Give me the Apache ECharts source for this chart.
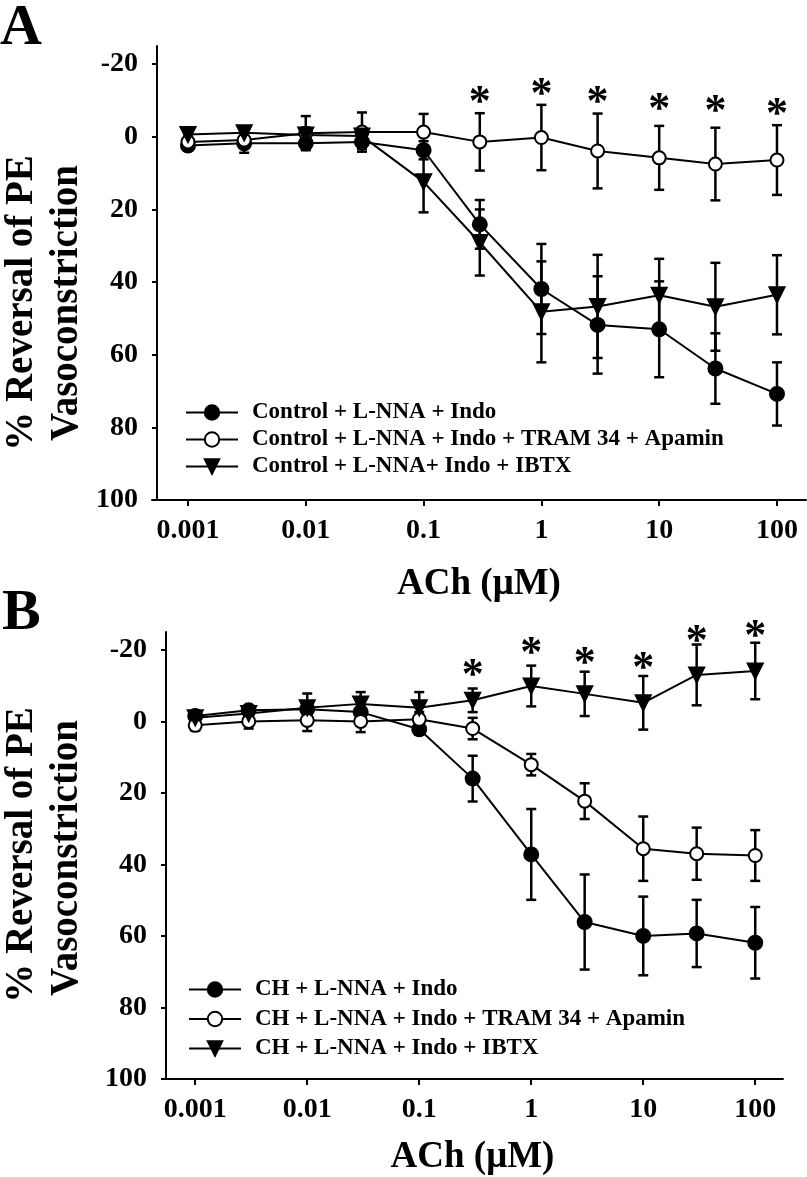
<!DOCTYPE html>
<html>
<head>
<meta charset="utf-8">
<script src="https://cdn.jsdelivr.net/npm/echarts@6/dist/echarts.min.js"></script>
<style>
  html, body { margin: 0; padding: 0; background: #fff; }
  #chart { width: 807px; height: 1177px; }
</style>
</head>
<body>
<div id="chart"></div>
<script>
// ---------- DATA ----------
const conc = [0.001, 0.003, 0.01, 0.03, 0.1, 0.3, 1, 3, 10, 30, 100];
const xTickValues = [0.001, 0.01, 0.1, 1, 10, 100];
const xTickLabels = ['0.001', '0.01', '0.1', '1', '10', '100'];
const yTickValues = [-20, 0, 20, 40, 60, 80, 100];

// Panel A (Control)
const namesA = ['Control + L-NNA + Indo', 'Control + L-NNA + Indo + TRAM 34 + Apamin', 'Control + L-NNA+ Indo + IBTX'];
const ctlIndo      = [2.4, 1.8, 1.8, 1.4, 3.7, 24.1, 41.9, 51.8, 53.0, 63.8, 70.8];
const ctlIndoErr   = [1.0, 2.6, 1.5, 2.0, 2.5, 6.7, 12.4, 13.4, 13.2, 9.7, 8.7];
const ctlTram      = [1.4, 0.9, -1.0, -1.3, -1.3, 1.4, 0.2, 3.9, 5.8, 7.5, 6.4];
const ctlTramErr   = [1.5, 2.0, 4.7, 5.4, 5.0, 7.9, 9.0, 10.3, 8.8, 10.0, 9.6];
const ctlIbtx      = [-0.6, -1.1, -0.5, -0.2, 12.4, 29.1, 48.2, 46.7, 43.6, 46.8, 43.5];
const ctlIbtxErr   = [1.0, 1.0, 2.0, 2.0, 8.4, 9.1, 13.9, 14.2, 10.0, 12.1, 10.9];
const starConcA    = [0.3, 1, 3, 10, 30, 100];
const starYA       = [-11.9, -14.2, -11.9, -9.9, -9.4, -8.5];

// Panel B (CH)
const namesB = ['CH + L-NNA + Indo', 'CH + L-NNA + Indo + TRAM 34 + Apamin', 'CH + L-NNA + Indo + IBTX'];
const chIndo       = [-1.5, -3.1, -3.4, -2.6, 2.2, 16.0, 37.2, 56.1, 60.0, 59.3, 61.9];
const chIndoErr    = [1.0, 1.0, 1.5, 1.5, 1.5, 6.4, 12.7, 13.3, 11.0, 9.4, 10.0];
const chTram       = [1.1, 0.0, -0.3, 0.0, -0.6, 2.0, 12.1, 22.3, 35.6, 37.0, 37.5];
const chTramErr    = [1.5, 2.0, 3.0, 3.0, 2.0, 3.0, 3.0, 5.0, 9.0, 7.3, 7.1];
const chIbtx       = [-1.0, -2.2, -3.8, -4.9, -3.8, -5.9, -9.9, -7.7, -5.2, -13.0, -14.1];
const chIbtxErr    = [1.0, 1.0, 4.0, 3.3, 4.4, 3.3, 5.7, 6.2, 7.5, 8.5, 7.9];
const starConcB    = [0.3, 1, 3, 10, 30, 100];
const starYB       = [-15.2, -21.5, -18.7, -17.3, -24.9, -26.3];

// ---------- STYLE ----------
const FONT = '"Liberation Serif", "Times New Roman", serif';
const BLACK = '#000';

function pairs(xs, ys) { return xs.map((x, i) => [x, ys[i]]); }
function triples(xs, ys, es) { return xs.map((x, i) => [x, ys[i], es[i]]); }

function errRender(params, api) {
  const x = api.value(0), m = api.value(1), e = api.value(2);
  const t = api.coord([x, m - e]);
  const b = api.coord([x, m + e]);
  const hw = 5;
  const st = { stroke: BLACK, lineWidth: 2.5 };
  return {
    type: 'group',
    children: [
      { type: 'line', shape: { x1: t[0], y1: t[1], x2: b[0], y2: b[1] }, style: st },
      { type: 'line', shape: { x1: t[0] - hw, y1: t[1], x2: t[0] + hw, y2: t[1] }, style: st },
      { type: 'line', shape: { x1: b[0] - hw, y1: b[1], x2: b[0] + hw, y2: b[1] }, style: st }
    ]
  };
}
function starRender(params, api) {
  const p = api.coord([api.value(0), api.value(1)]);
  return {
    type: 'text', x: p[0], y: p[1] + 10,
    style: { text: '*', font: 'bold 44px ' + FONT, fill: BLACK, align: 'center', verticalAlign: 'middle' }
  };
}

function xAxisCfg(gi, min, max, nameGap) {
  return {
    type: 'log', gridIndex: gi, min: min, max: max, logBase: 10,
    name: 'ACh (μM)', nameLocation: 'middle', nameGap: nameGap,
    nameTextStyle: { fontFamily: FONT, fontWeight: 'bold', fontSize: 37, color: BLACK },
    axisLine: { onZero: false, lineStyle: { color: BLACK, width: 2 } },
    axisTick: { show: true, length: 6, lineStyle: { color: BLACK, width: 2 }, customValues: xTickValues },
    axisLabel: {
      margin: 17, fontFamily: FONT, fontWeight: 'bold', fontSize: 28, color: BLACK,
      customValues: xTickValues,
      formatter: v => { const i = xTickValues.findIndex(t => Math.abs(Math.log10(t) - Math.log10(v)) < 1e-6); return i >= 0 ? xTickLabels[i] : ''; }
    },
    splitLine: { show: false }, minorTick: { show: false }
  };
}
function yAxisCfg(gi, offset) {
  return {
    type: 'value', gridIndex: gi, inverse: true, min: -25, max: 100, offset: offset,
    axisLine: { show: true, onZero: false, lineStyle: { color: BLACK, width: 2 } },
    axisTick: { show: true, length: 5, lineStyle: { color: BLACK, width: 2 }, customValues: yTickValues },
    axisLabel: { margin: 19, fontFamily: FONT, fontWeight: 'bold', fontSize: 28, color: BLACK, customValues: yTickValues },
    splitLine: { show: false }
  };
}
function lineSeries(name, gi, ys, symbol, size, rotate) {
  return {
    name: name, type: 'line', xAxisIndex: gi, yAxisIndex: gi,
    data: pairs(conc, ys), symbol: symbol, symbolSize: size, symbolRotate: rotate || 0,
    showAllSymbol: true, z: 5,
    lineStyle: { color: BLACK, width: 2 },
    itemStyle: { color: BLACK, borderColor: BLACK, borderWidth: 2 },
    emphasis: { disabled: true }
  };
}
function errSeries(gi, ys, es) {
  return {
    type: 'custom', xAxisIndex: gi, yAxisIndex: gi, z: 3,
    renderItem: errRender, data: triples(conc, ys, es), encode: { x: 0, y: 1 }, silent: true
  };
}
function starSeries(gi, xs, ys) {
  return {
    type: 'custom', xAxisIndex: gi, yAxisIndex: gi, z: 6, clip: false,
    renderItem: starRender, data: pairs(xs, ys), encode: { x: 0, y: 1 }, silent: true
  };
}
function legendCfg(names, left, top, gap) {
  return {
    data: names, orient: 'vertical', left: left, top: top, padding: 0,
    itemWidth: 52, itemHeight: 18, itemGap: gap, selectedMode: false,
    textStyle: { fontFamily: FONT, fontWeight: 'bold', fontSize: 23, color: BLACK, padding: [0, 0, 0, 9] }
  };
}

const chart = echarts.init(document.getElementById('chart'), null, { renderer: 'canvas' });
chart.setOption({
  animation: false,
  backgroundColor: '#fff',
  grid: [
    { left: 152, top: 46, width: 654, height: 454 },
    { left: 162, top: 632, width: 621, height: 447 }
  ],
  xAxis: [ xAxisCfg(0, 0.000495, 176.3, 66), xAxisCfg(1, 0.000505, 177, 60) ],
  yAxis: [ yAxisCfg(0, -5), yAxisCfg(1, -4) ],
  legend: [ legendCfg(namesA, 185, 401, 4), legendCfg(namesB, 188, 978, 6.5) ],
  graphic: [
    { type: 'text', left: 0, top: 0, style: { text: 'A', font: 'bold 58px ' + FONT, fill: BLACK } },
    { type: 'text', left: 2, top: 585, style: { text: 'B', font: 'bold 58px ' + FONT, fill: BLACK } },
    { type: 'text', x: 22, y: 303, rotation: Math.PI / 2, style: { text: '% Reversal of PE', font: 'bold 39px ' + FONT, fill: BLACK, align: 'center', verticalAlign: 'middle' } },
    { type: 'text', x: 67, y: 303, rotation: Math.PI / 2, style: { text: 'Vasoconstriction', font: 'bold 39px ' + FONT, fill: BLACK, align: 'center', verticalAlign: 'middle' } },
    { type: 'text', x: 22, y: 855, rotation: Math.PI / 2, style: { text: '% Reversal of PE', font: 'bold 39px ' + FONT, fill: BLACK, align: 'center', verticalAlign: 'middle' } },
    { type: 'text', x: 67, y: 858, rotation: Math.PI / 2, style: { text: 'Vasoconstriction', font: 'bold 39px ' + FONT, fill: BLACK, align: 'center', verticalAlign: 'middle' } }
  ],
  series: [
    errSeries(0, ctlIndo, ctlIndoErr),
    errSeries(0, ctlTram, ctlTramErr),
    errSeries(0, ctlIbtx, ctlIbtxErr),
    lineSeries(namesA[0], 0, ctlIndo, 'circle', 14),
    lineSeries(namesA[1], 0, ctlTram, 'emptyCircle', 13),
    lineSeries(namesA[2], 0, ctlIbtx, 'triangle', 15, 180),
    starSeries(0, starConcA, starYA),
    errSeries(1, chIndo, chIndoErr),
    errSeries(1, chTram, chTramErr),
    errSeries(1, chIbtx, chIbtxErr),
    lineSeries(namesB[0], 1, chIndo, 'circle', 14),
    lineSeries(namesB[1], 1, chTram, 'emptyCircle', 13),
    lineSeries(namesB[2], 1, chIbtx, 'triangle', 15, 180),
    starSeries(1, starConcB, starYB)
  ]
});
</script>
</body>
</html>
